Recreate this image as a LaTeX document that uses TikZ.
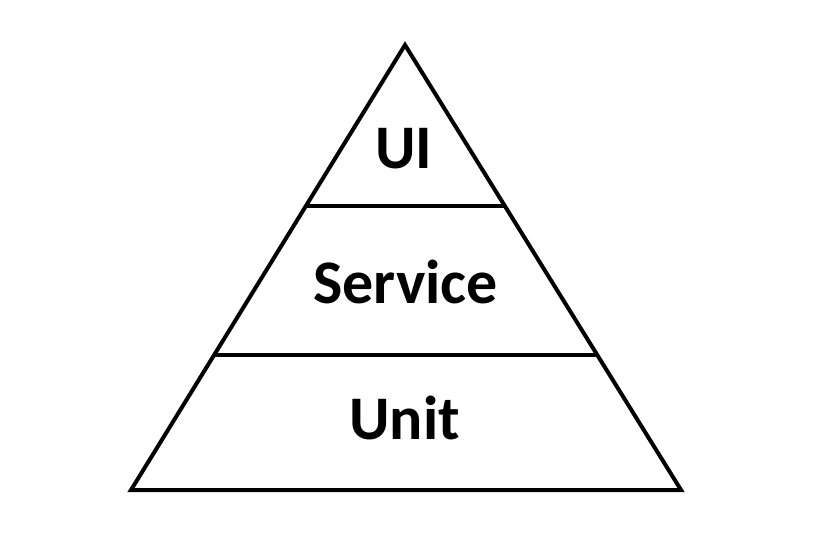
\documentclass[tikz,border=0pt]{standalone}
\usepackage{fontspec}
\setmainfont{Carlito}

\tikzset{every picture/.style={line width=3pt}}
\tikzset{layerlabel/.style={anchor=base,inner sep=0.75pt,font=\fontsize{46.5}{56}\selectfont\bfseries}}

\begin{document}
\begin{tikzpicture}[x=0.75pt,y=0.75pt,yscale=-1,xscale=1]
%set diagram to the size of the reference
\useasboundingbox (0,0) rectangle (830,542);

%Shape: Triangle [id:apex, baseL, baseR]
\coordinate (apex) at (405,45);
\coordinate (baseL) at (131,490);
\coordinate (baseR) at (681,490);
\draw [line join=miter] (apex) -- (baseL) -- (baseR) -- cycle ;
%Straight Lines [id:topline]
\coordinate (topL) at (306,206);
\coordinate (topR) at (505,206);
\draw (topL) -- (topR) ;
%Straight Lines [id:midline]
\coordinate (midL) at (214,355);
\coordinate (midR) at (597,355);
\draw (midL) -- (midR) ;

% Text Node
\node (ui) at (403.5,168) [layerlabel] {UI};
% Text Node
\node (service) at (405.5,303) [layerlabel] {Service};
% Text Node
\node (unit) at (404.5,439) [layerlabel] {Unit};

\end{tikzpicture}
\end{document}
